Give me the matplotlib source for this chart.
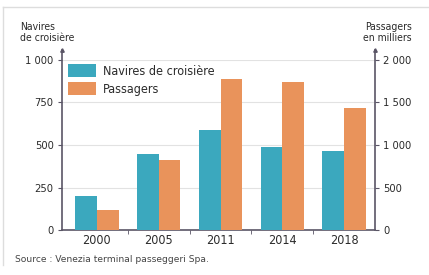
import numpy as np
import matplotlib.pyplot as plt
from matplotlib.lines import Line2D

years = ["2000", "2005", "2011", "2014", "2018"]
navires = [200, 450, 590, 490, 465]          # navires de croisière
passagers = [240, 820, 1780, 1740, 1430]     # passagers, en milliers

left_ticks = [0, 250, 500, 750, 1000]
left_labels = ["0", "250", "500", "750", "1 000"]
right_ticks = [0, 500, 1000, 1500, 2000]
right_labels = ["0", "500", "1 000", "1 500", "2 000"]

teal = "#3ba8be"
orange = "#e9935b"
axc = "#5a5566"
txt = "#2b2b2b"

plt.rcParams["font.family"] = ["DejaVu Sans"]
plt.rcParams["font.stretch"] = "condensed"
plt.rcParams["text.color"] = txt

fig = plt.figure(figsize=(4.29, 2.75), dpi=100)
ax = fig.add_axes([62 / 429, 1 - 230 / 275, 313 / 429, 170 / 275])
ax2 = ax.twinx()

x = np.arange(len(years))
w = 0.35
ax.bar(x - w / 2, navires, w, color=teal, label="Navires de croisière", zorder=3)
ax2.bar(x + w / 2, passagers, w, color=orange, label="Passagers", zorder=3)

ax.set_xlim(-0.565, 4.5)
ax.set_ylim(0, 1000)
ax2.set_ylim(0, 2000)

ax.set_yticks(left_ticks)
ax.set_yticklabels(left_labels)
ax2.set_yticks(right_ticks)
ax2.set_yticklabels(right_labels)
ax.set_xticks(x)
ax.set_xticklabels(years)
ax.set_xticks(x[:-1] + 0.5, minor=True)

for a in (ax, ax2):
    for s in a.spines.values():
        s.set_visible(False)
ax.spines["bottom"].set_visible(True)
ax.spines["bottom"].set_color(axc)
ax.spines["bottom"].set_linewidth(1.2)

ax.tick_params(axis="x", which="major", length=0, labelsize=9, pad=3,
               labelcolor=txt)
ax.tick_params(axis="x", which="minor", length=3, color=axc, direction="out")
ax.tick_params(axis="y", length=3, color=axc, labelsize=8, pad=3, labelcolor=txt)
ax2.tick_params(axis="y", length=3, color=axc, labelsize=8, pad=3, labelcolor=txt)

ax.grid(axis="y", color="#e2e2e2", linewidth=0.8, zorder=0)
ax.set_axisbelow(True)
ax2.set_zorder(ax.get_zorder() + 1)
ax2.patch.set_visible(False)

# vertical axes with arrows
for xpos in (0, 1):
    ax.plot([xpos, xpos], [0, 1.06], transform=ax.transAxes, color=axc,
            lw=1.2, clip_on=False, zorder=5)
    ax.plot([xpos], [1.06], transform=ax.transAxes, marker="^", ms=2.5,
            color=axc, clip_on=False, zorder=5)

h1, l1 = ax.get_legend_handles_labels()
h2, l2 = ax2.get_legend_handles_labels()
ax2.legend(h1 + h2, l1 + l2, loc="upper left", bbox_to_anchor=(0.0, 1.015),
           frameon=False, fontsize=9, handlelength=2.2, handleheight=1.3,
           handletextpad=0.6, labelspacing=0.32, borderaxespad=0.1)

fig.text(20 / 429, 1 - 22 / 275, "Navires\nde croisière", fontsize=7.5,
         ha="left", va="top", linespacing=1.15)
fig.text(412 / 429, 1 - 22 / 275, "Passagers\nen milliers", fontsize=7.5,
         ha="right", va="top", linespacing=1.15)
fig.text(15 / 429, 1 - 260 / 275, "Source : Venezia terminal passeggeri Spa.",
         fontsize=6.6, fontstretch="normal", ha="left", va="center",
         color="#444444")

# light frame
fig.add_artist(Line2D([3 / 429, 1], [1 - 7 / 275] * 2, color="#dddddd", lw=1))
fig.add_artist(Line2D([3 / 429] * 2, [1 - 7 / 275, 1 - 265 / 275],
                      color="#dddddd", lw=1))

fig.savefig("out.png", dpi=100)
